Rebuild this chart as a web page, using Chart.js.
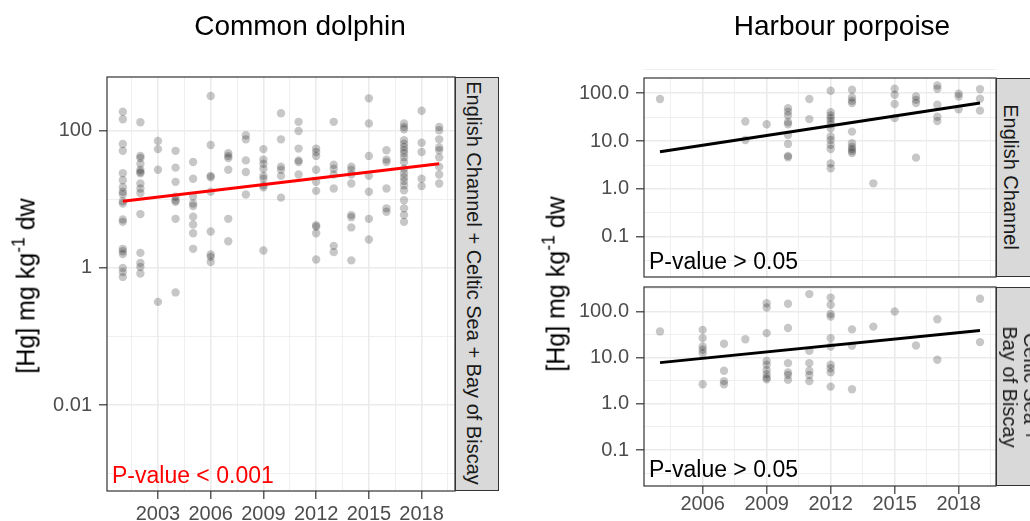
<!DOCTYPE html>
<html>
<head>
<meta charset="utf-8">
<script src="https://cdn.jsdelivr.net/npm/chart.js@4/dist/chart.umd.min.js"></script>
<style>
  body { margin: 0; width: 1030px; height: 521px; overflow: hidden; position: relative; background: #fff;
         font-family: "Liberation Sans", Arial, sans-serif; }
  canvas { position: absolute; left: 0; top: 0; }
  .txt { position: absolute; white-space: nowrap; line-height: 1; }
  .title { font-size: 28px; color: #000; transform: translateX(-50%); }
  .ytitle { font-size: 25px; color: #000; transform: translate(-50%, -50%) rotate(-90deg); }
  .ytitle sup { font-size: 0.7em; vertical-align: 0.55em; line-height: 0; }
  .strip { position: absolute; box-sizing: border-box; background: #D9D9D9; border: 1.2px solid #333; }
  .stext { font-size: 20px; color: #1A1A1A; transform: translate(-50%, -50%) rotate(90deg); text-align: center; }
  .pval { font-size: 23px; }
</style>
</head>
<body>
<canvas id="dolphin" width="1030" height="521"></canvas>
<canvas id="porpEC" width="1030" height="521"></canvas>
<canvas id="porpCB" width="1030" height="521"></canvas>

<div class="strip" style="left:455px;top:77px;width:44px;height:414px"></div>
<div class="strip" style="left:996px;top:78px;width:60px;height:199px"></div>
<div class="strip" style="left:996px;top:287px;width:60px;height:199px"></div>

<div class="txt title" style="left:300px;top:12px">Common dolphin</div>
<div class="txt title" style="left:842px;top:12px">Harbour porpoise</div>

<div class="txt ytitle" style="left:26px;top:286px">[Hg] mg kg<sup>-1</sup> dw</div>
<div class="txt ytitle" style="left:556px;top:284px">[Hg] mg kg<sup>-1</sup> dw</div>

<div class="txt stext" style="left:474px;top:283px">English Channel + Celtic Sea + Bay of Biscay</div>
<div class="txt stext" style="left:1011px;top:177px">English Channel</div>
<div class="txt stext" style="left:1020px;top:387px;line-height:21px">Celtic Sea +<br>Bay of Biscay</div>

<div class="txt pval" style="left:112px;top:464px;color:#FF0000">P-value &lt; 0.001</div>
<div class="txt pval" style="left:649px;top:250px;color:#000">P-value &gt; 0.05</div>
<div class="txt pval" style="left:649px;top:458px;color:#000">P-value &gt; 0.05</div>

<script>
// Common dolphin, all areas: [Hg] per sampling year
const dolphinYears = [2001, 2002, 2003, 2004, 2005, 2006, 2007, 2008, 2009, 2010,
                      2011, 2012, 2013, 2014, 2015, 2016, 2017, 2018, 2019];
const dolphinHg = [
  [189, 147, 64, 51, 24, 19, 15, 12.9, 11.9, 9.4, 8.7, 5.1, 4.7, 1.9, 1.75, 1.6, 1.0, 0.87, 0.74],
  [133, 43, 40, 33, 27, 25, 24, 17, 14.4, 12.4, 6.1, 1.66, 1.18, 1.03, 0.83],
  [71, 54, 27, 0.32],
  [51, 29, 18, 10.9, 9.7, 9.2, 5.2, 0.44],
  [35, 20, 11, 8.7, 8.0, 5.6, 4.3, 3.2, 1.9],
  [321, 62, 22, 21, 12.9, 3.4, 1.57, 1.45, 1.22],
  [47, 43, 40, 27, 5.2, 2.45],
  [86, 75, 37, 25, 11.8],
  [54, 38, 33, 28, 22, 20, 16, 15, 1.8],
  [180, 75, 30, 27, 22, 10.6],
  [135, 99, 55, 37, 35, 23],
  [55, 49, 43, 27, 18, 13.3, 4.2, 4.0, 3.2, 1.33],
  [135, 32, 28, 23, 14.4, 2.1, 1.7],
  [30, 27, 23, 17, 5.9, 5.5, 3.9, 1.29],
  [297, 128, 43, 22, 12.9, 5.2, 2.6],
  [52, 38, 35, 14.4, 7.4, 6.6],
  [128, 114, 105, 73, 65, 58, 52, 47, 41, 35, 28, 24, 21, 18.5, 16, 13.6, 9.7, 7.4, 5.9, 4.7],
  [196, 67, 49, 20, 15.6],
  [114, 102, 75, 57, 52, 41, 30, 23, 17]
];
const dolphinTrendYears = [2001, 2019];
const dolphinTrend = [9.4, 33];

// Harbour porpoise, English Channel
const ecYears = [2004, 2008, 2009, 2010, 2011, 2012, 2013, 2014, 2015, 2016, 2017, 2018, 2019];
const ecHg = [
  [75],
  [25.5, 10.5],
  [22.4],
  [48.5, 41, 34, 25, 22.4, 13.4, 8.7, 4.9, 4.6],
  [75, 28.6],
  [112, 40, 34, 30, 26, 22.4, 18.5, 12.4, 10.5, 8.3, 6.8, 3.4, 2.7],
  [117, 81, 69, 62, 15.7, 9.0, 7.6, 6.8, 6.2, 5.6],
  [1.31],
  [123, 92, 59, 30],
  [85, 72, 62, 4.5],
  [144, 123, 57, 32, 26],
  [97, 85, 46],
  [121, 76, 43]
];
const ecTrendYears = [2004, 2019];
const ecTrend = [6.0, 62];

// Harbour porpoise, Celtic Sea + Bay of Biscay
const cbYears = [2004, 2006, 2007, 2008, 2009, 2010, 2011, 2012, 2013, 2014, 2015, 2016, 2017, 2019];
const cbHg = [
  [37],
  [40, 26.5, 17.4, 14.8, 12.5, 2.66],
  [20, 5.2, 3.1, 2.66],
  [25],
  [151, 122, 34, 8.5, 7.0, 5.4, 4.4, 3.7, 3.4],
  [147, 44, 7.6, 4.8, 4.2, 3.3],
  [238, 14, 7.6, 5.2, 4.2, 3.1],
  [200, 140, 88, 78, 26.5, 17.4, 7.0, 5.9, 4.8, 2.36],
  [41, 18, 2.07],
  [47],
  [100],
  [18.3],
  [68, 9.0],
  [188, 21.7]
];
const cbTrendYears = [2004, 2019];
const cbTrend = [7.8, 38.7];

// axis breaks (labelled majors and unlabelled minor grid lines)
const dolphinXMajor = [2003, 2006, 2009, 2012, 2015, 2018];
const dolphinXMinor = [2001.5, 2004.5, 2007.5, 2010.5, 2013.5, 2016.5, 2019.5];
const porpXMajor = [2006, 2009, 2012, 2015, 2018];
const porpXMinor = [2004.5, 2007.5, 2010.5, 2013.5, 2016.5, 2019.5];
const dolphinYMajor = [0.01, 1, 100];
const dolphinYLabels = ['0.01', '1', '100'];
const dolphinYMinor = [0.001, 0.1, 10];
const porpYMajor = [0.1, 1, 10, 100];
const porpYLabels = ['0.1', '1.0', '10.0', '100.0'];
const porpYMinor = [0.0316, 0.316, 3.16, 31.6, 316];

const FONT = '"Liberation Sans", Arial, sans-serif';

function toPoints(years, values) {
  const pts = [];
  years.forEach((yr, i) => values[i].forEach(v => pts.push({ x: yr, y: v })));
  return pts;
}

function makeTicks(major, labels, minor) {
  const ticks = major.map((v, i) => ({ value: v, lbl: labels[i] }))
    .concat(minor.map(v => ({ value: v, lbl: '', minor: true })));
  return ticks.sort((a, b) => a.value - b.value);
}

const panelBorder = {
  id: 'panelBorder',
  afterDraw(chart) {
    const { ctx, chartArea: a } = chart;
    ctx.save();
    ctx.strokeStyle = '#333333';
    ctx.lineWidth = 1.2;
    ctx.strokeRect(a.left, a.top, a.right - a.left, a.bottom - a.top);
    ctx.restore();
  }
};

function gridOpts() {
  return {
    color: '#EBEBEB',
    lineWidth: ctx => (ctx.tick && ctx.tick.minor ? 0.8 : 1.6),
    tickColor: ctx => (ctx.tick && ctx.tick.minor ? 'rgba(0,0,0,0)' : '#333333'),
    tickWidth: 1.2,
    tickLength: 8
  };
}

function panel(id, p) {
  new Chart(document.getElementById(id), {
    type: 'scatter',
    data: {
      datasets: [
        {
          data: p.trendYears.map((yr, i) => ({ x: yr, y: p.trend[i] })),
          showLine: true,
          borderColor: p.lineColor,
          borderWidth: 3,
          pointRadius: 0,
          order: 0
        },
        {
          data: toPoints(p.years, p.values),
          pointRadius: 4.2,
          pointBackgroundColor: 'rgba(0,0,0,0.22)',
          pointBorderWidth: 0,
          order: 1
        }
      ]
    },
    options: {
      responsive: false,
      animation: false,
      events: [],
      layout: { padding: p.padding },
      plugins: { legend: { display: false }, tooltip: { enabled: false } },
      scales: {
        x: {
          type: 'linear',
          bounds: 'data',
          min: p.xMin,
          max: p.xMax,
          afterBuildTicks: s => { s.ticks = makeTicks(p.xMajor, p.xMajor.map(String), p.xMinor); },
          afterFit: s => { s.height = p.xHeight; },
          border: { display: false },
          grid: Object.assign(gridOpts(), p.xTicks ? {} : { drawTicks: false }),
          ticks: {
            display: p.xTicks,
            autoSkip: false,
            maxRotation: 0,
            padding: p.xPad,
            color: '#4D4D4D',
            font: { family: FONT, size: 20, lineHeight: 1 },
            callback: (v, i, ts) => ts[i].lbl
          }
        },
        y: {
          type: 'logarithmic',
          bounds: 'data',
          min: p.yMin,
          max: p.yMax,
          afterBuildTicks: s => { s.ticks = makeTicks(p.yMajor, p.yLabels, p.yMinor); },
          afterFit: s => { s.width = p.yWidth; },
          border: { display: false },
          grid: gridOpts(),
          ticks: {
            autoSkip: false,
            padding: 7,
            color: '#4D4D4D',
            font: { family: FONT, size: 20, lineHeight: 1 },
            callback: (v, i, ts) => ts[i].lbl
          }
        }
      }
    },
    plugins: [panelBorder]
  });
}

panel('dolphin', {
  years: dolphinYears, values: dolphinHg,
  trendYears: dolphinTrendYears, trend: dolphinTrend, lineColor: '#FF0000',
  xMin: 2000.1, xMax: 2019.9, xMajor: dolphinXMajor, xMinor: dolphinXMinor,
  yMin: 0.00056, yMax: 608, yMajor: dolphinYMajor, yLabels: dolphinYLabels, yMinor: dolphinYMinor,
  padding: { left: 0, top: 77, right: 575, bottom: 0 },
  yWidth: 107, xHeight: 30, xTicks: true, xPad: 5
});

panel('porpEC', {
  years: ecYears, values: ecHg,
  trendYears: ecTrendYears, trend: ecTrend, lineColor: '#000000',
  xMin: 2003.25, xMax: 2019.75, xMajor: porpXMajor, xMinor: porpXMinor,
  yMin: 0.0146, yMax: 206, yMajor: porpYMajor, yLabels: porpYLabels, yMinor: porpYMinor,
  padding: { left: 544, top: 78, right: 34, bottom: 244 },
  yWidth: 100, xHeight: 0, xTicks: false, xPad: 0
});

panel('porpCB', {
  years: cbYears, values: cbHg,
  trendYears: cbTrendYears, trend: cbTrend, lineColor: '#000000',
  xMin: 2003.25, xMax: 2019.75, xMajor: porpXMajor, xMinor: porpXMinor,
  yMin: 0.0166, yMax: 339, yMajor: porpYMajor, yLabels: porpYLabels, yMinor: porpYMinor,
  padding: { left: 544, top: 287, right: 34, bottom: 0 },
  yWidth: 100, xHeight: 35, xTicks: true, xPad: 0
});
</script>
</body>
</html>
